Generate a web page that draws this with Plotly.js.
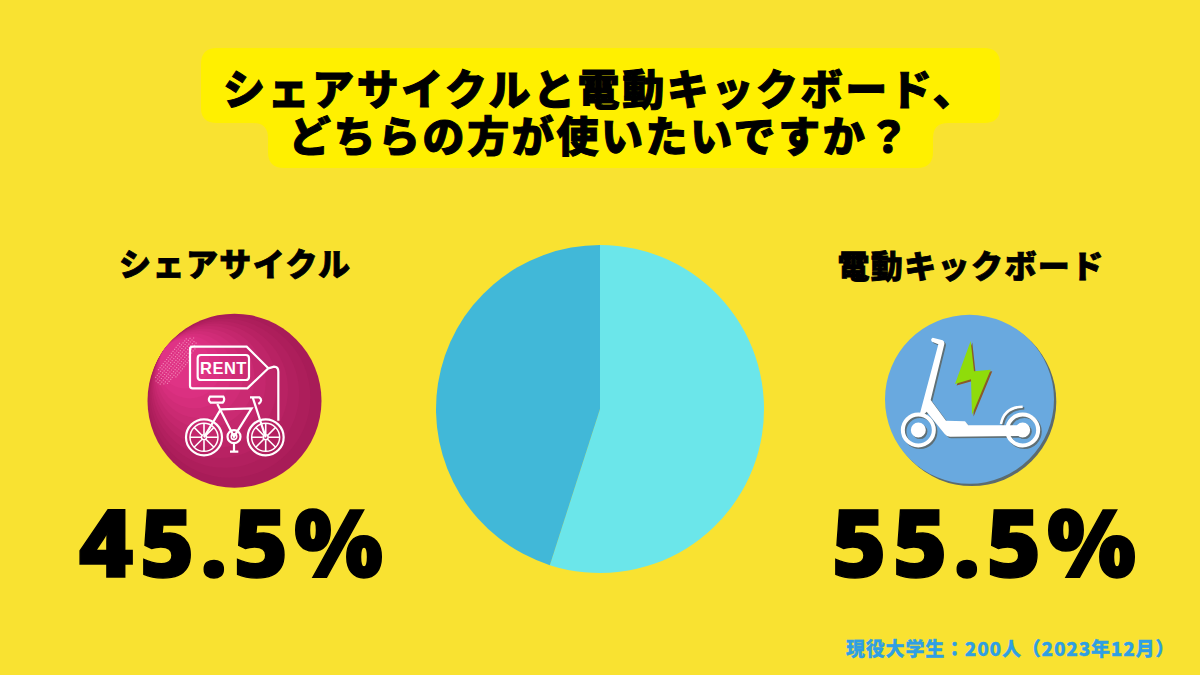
<!DOCTYPE html>
<html>
<head>
<meta charset="utf-8">
<script src="https://cdn.plot.ly/plotly-3.0.1.min.js"></script>
<style>html,body{margin:0;padding:0;background:#f9e231}#c{width:1200px;height:675px}</style>
</head>
<body>
<div id="c"></div>
<script>
var categories = ["電動キックボード", "シェアサイクル"];
var pieValues = [55.5, 45.5];
var pieColors = ["#6be6ea", "#41b8d8"];
var percentLabels = ["55.5%", "45.5%"];
var titleLines = ["シェアサイクルと電動キックボード、", "どちらの方が使いたいですか？"];
var footer = "現役大学生：200人（2023年12月）";

var BG = "#f9e231", JP = "'Noto Sans CJK JP','Noto Sans',sans-serif";

function circ(cx, cy, r, o) {
  return Object.assign({type:"circle", xref:"x", yref:"y", x0:cx-r, x1:cx+r, y0:cy-r, y1:cy+r, line:{width:0}, layer:"below"}, o);
}
function path(d, o) {
  return Object.assign({type:"path", xref:"x", yref:"y", path:d, line:{width:0}, layer:"below"}, o);
}
function zp(ox, oy, d) {
  return d.replace(/(-?[\d.]+),(-?[\d.]+)/g, function(m, a, b) {
    return (ox + a/3).toFixed(2) + "," + (oy + b/3).toFixed(2);
  });
}
var shapes = [];
shapes.push(path("M217,48 L984,48 Q1000,48 1000,64 L1000,108 Q1000,123 984,123 L948,123 Q933,123 933,138 L933,152 Q933,168 917,168 L284,168 Q268,168 268,152 L268,138 Q268,123 253,123 L217,123 Q201,123 201,108 L201,64 Q201,48 217,48 Z", {fillcolor:"#fff000"}));

// pink icon
var pc = {x:234.5, y:400.7, r:87};
var pinks = ["#a81c58","#ad1e5b","#b2205f","#b82263","#be2568","#c4276d","#ca2a72","#d02c77","#d62e7c","#db3081","#df3385"];
pinks.forEach(function(col, i) {
  var d = i * 6.2;
  shapes.push(circ(pc.x - d*0.8, pc.y - d*0.6, pc.r - d, {fillcolor:col}));
});
// stipple patch
var dots = "";
for (var u = -30; u <= 30; u += 2.6) for (var v = -11; v <= 11; v += 2.6) {
  if (u*u/900 + v*v/121 > 1) continue;
  var xx = 175 + u*0.62 + v*0.78, yy = 361 - u*0.78 + v*0.62;
  var s0 = 1.2;
  dots += "M"+xx.toFixed(1)+","+yy.toFixed(1)+" L"+(xx+s0).toFixed(1)+","+yy.toFixed(1)+" L"+(xx+s0).toFixed(1)+","+(yy+s0).toFixed(1)+" L"+xx.toFixed(1)+","+(yy+s0).toFixed(1)+" Z ";
}
shapes.push(path(dots, {fillcolor:"rgba(255,190,215,0.55)"}));
var W = {line:{color:"#fff", width:2.2}, fillcolor:"rgba(0,0,0,0)"};
var O = 130, T = 300;
[
 "M188,140 L350,140 L415,205 L352,265 L188,265 Q180,265 180,257 L180,148 Q180,140 188,140 Z",
 "M213,165 L347,165 Q357,165 357,175 L357,230 Q357,240 347,240 L213,240 Q203,240 203,230 L203,175 Q203,165 213,165 Z",
 "M415,205 L432,200 Q445,200 445,215 L445,362",
 "M222,412 L272,328 L365,325 L312,410 L262,312",
 "M240,290 L280,290 Q286,300 278,308 L242,308 Q232,300 240,290 Z",
 "M360,292 L388,292 Q400,302 385,312 M368,292 L407,412",
 "M312,430 L312,455 M300,455 L325,455"
].forEach(function(d){ shapes.push(path(zp(O,T,d), W)); });
[[222,412],[407,412]].forEach(function(w){
  var cx=O+w[0]/3, cy=T+w[1]/3;
  shapes.push(circ(cx,cy,18,{line:{color:"#fff",width:2.2},fillcolor:"rgba(0,0,0,0)"}));
  shapes.push(circ(cx,cy,14,{line:{color:"#fff",width:1.5},fillcolor:"rgba(0,0,0,0)"}));
  shapes.push(circ(cx,cy,2.5,{line:{color:"#fff",width:1.5},fillcolor:"rgba(0,0,0,0)"}));
  var s="";
  for (var k=0;k<8;k++){var t=k*Math.PI/4;
    s+="M"+(cx+3*Math.cos(t)).toFixed(1)+","+(cy+3*Math.sin(t)).toFixed(1)+" L"+(cx+14*Math.cos(t)).toFixed(1)+","+(cy+14*Math.sin(t)).toFixed(1)+" ";}
  shapes.push(path(s,{line:{color:"#fff",width:1.6},fillcolor:"rgba(0,0,0,0)"}));
});
shapes.push(circ(O+312/3,T+410/3,6.5,{line:{color:"#fff",width:2.2},fillcolor:"rgba(0,0,0,0)"}));
shapes.push(circ(O+312/3,T+410/3,2.8,{line:{color:"#fff",width:1.5},fillcolor:"rgba(0,0,0,0)"}));

// scooter icon
var X = 870, Y = 300;
function scooter(dx, dy, white, green) {
  var ox = X+dx, oy = Y+dy;
  var f = {fillcolor:white};
  shapes.push(path(zp(ox,oy,"M188,113 L218,121 Q224,124 223,132 L182,300 L228,362 L285,364 L295,376 L462,376 L462,408 L240,410 Q230,410 224,402 L170,335 L160,345 L150,340 L205,133 L186,125 Q180,118 188,113 Z"), f));
  [[145,390],[458,390]].forEach(function(w){
    var cx=ox+w[0]/3, cy=oy+w[1]/3;
    shapes.push(circ(cx,cy,15.5,{line:{color:white,width:4},fillcolor:"rgba(0,0,0,0)"}));
    shapes.push(circ(cx,cy,7.5,{fillcolor:white}));
  });
  shapes.push(path(zp(ox,oy,"M393,372 Q402,322 458,320"), {line:{color:white,width:2.5},fillcolor:"rgba(0,0,0,0)"}));
  shapes.push(path(zp(ox,oy,"M302,123 L255,252 L303,238 L306,345 L362,209 L312,214 Z"), {fillcolor:green}));
}
shapes.push(circ(971.8,401.6,84.5,{fillcolor:"#5c6b6e"}));
shapes.push(circ(969.5,399.3,84.5,{fillcolor:"#69a9df"}));
scooter(1.6,1.6,"#5f6f75","#8a5a2a");
scooter(0,0,"#ffffff","#8fdc0a");

function lab(x, y, t, size, color, extra) {
  return Object.assign({xref:"x", yref:"y", x:x, y:y, text:t, showarrow:false, xanchor:"center", yanchor:"middle",
    font:{family:JP, size:size, color:color, weight:900}}, extra||{});
}
var annotations = [
  lab(600, 86.5, titleLines[0], 42, "#000"),
  lab(600, 133, titleLines[1], 42, "#000"),
  lab(235, 261.5, categories[1], 32, "#000"),
  lab(970.5, 263.5, categories[0], 32, "#000"),
  lab(234, 541, percentLabels[1], 94, "#000", {font:{family:"'Noto Sans',sans-serif", size:94, color:"#000", weight:900}}),
  lab(986.5, 541, percentLabels[0], 94, "#000", {font:{family:"'Noto Sans',sans-serif", size:94, color:"#000", weight:900}}),
  lab(1010, 647, footer, 19, "#2f9fe3"),
  lab(223.5, 367.5, "RENT", 16, "#fff", {font:{family:"'Liberation Sans',sans-serif", size:16.5, color:"#fff", weight:700}})
];
var spacing = [2.6, 2.6, 1.4, 1.4, 5.8, 5.8, 0.8, 0.5];
var strokeW = [1, 1, 0.8, 0.8, 1.4, 1.4, 0.3, 0];

var traces = [
  {type:"pie", labels:categories, values:pieValues, sort:false, direction:"clockwise", rotation:0,
   marker:{colors:pieColors, line:{width:0}}, textinfo:"none", hoverinfo:"label+value", showlegend:false,
   domain:{x:[436/1200, 764/1200], y:[(675-573)/675, (675-245)/675]}},
  {type:"scatter", x:[], y:[], showlegend:false, hoverinfo:"skip"}
];
var layout = {
  width:1200, height:675, margin:{l:0,r:0,t:0,b:0,pad:0}, autosize:false,
  paper_bgcolor:BG, plot_bgcolor:BG, showlegend:false,
  xaxis:{range:[0,1200], visible:false, fixedrange:true},
  yaxis:{range:[675,0], visible:false, fixedrange:true},
  shapes:shapes, annotations:annotations
};
Plotly.newPlot("c", traces, layout, {displayModeBar:false, staticPlot:true}).then(function(){
  document.querySelectorAll("#c .annotation-text").forEach(function(el){
    var i = annotations.findIndex(function(a){ return a.text === el.textContent; });
    if (i < 0) return;
    el.style.letterSpacing = spacing[i] + "px";
    if (strokeW[i]) { el.style.stroke = el.style.fill || "#000"; el.style.strokeWidth = strokeW[i] + "px"; }
  });
});
</script>
</body>
</html>
